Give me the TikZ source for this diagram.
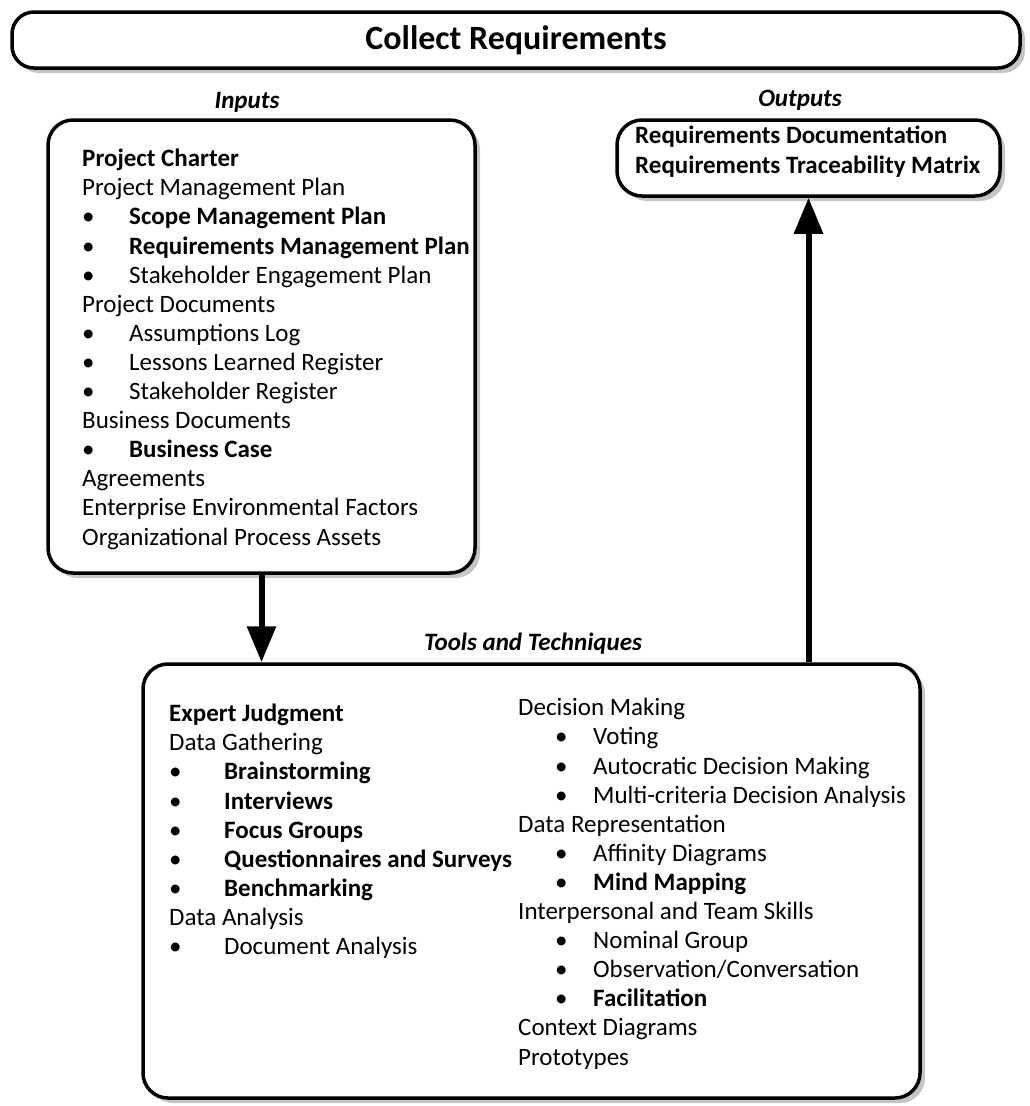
\documentclass[tikz,border=0pt]{standalone}
\usepackage{fontspec}
\setmainfont{Carlito}
\usetikzlibrary{arrows.meta, shadows}

\newcommand{\bl}[2][47pt]{\makebox[#1][l]{\textbullet}#2}
\newcommand{\br}[1]{\hspace{37pt}\makebox[38pt][l]{\textbullet}#1}

\begin{document}
\begin{tikzpicture}[x=1pt, y=-1pt, font=\fontsize{25}{29.1}\selectfont]
	\tikzstyle{box} = [rectangle, rounded corners=25pt, draw=black, line width=3.5pt, fill=white, drop shadow={shadow xshift=5pt, shadow yshift=-5pt, fill=black!45, opacity=0.5}]
	
	\tikzstyle{titlebox} = [box, rounded corners=22pt, font=\fontsize{34}{40}\selectfont\bfseries]
	
	% lists are placed by the baseline of their last line
	\tikzstyle{lines} = [anchor=base west, align=left, inner sep=0pt]
	\tikzstyle{heading} = [inner sep=0pt, font=\fontsize{25}{29.1}\selectfont\bfseries\itshape]
	
	\tikzstyle{arrow} = [-{Triangle[width=28pt,length=36pt]}, line width=6pt]
	
	\useasboundingbox (0,0) rectangle (1029,1106);
	
	% Title
	\node (title) [titlebox, minimum width=1008pt, minimum height=56pt] at (516,40) {Collect Requirements};
	
	% Headings
	\node (inhead) [heading] at (247,102) {Inputs};
	\node (outhead) [heading] at (800,100) {Outputs};
	\node (toolhead) [heading] at (533,644) {Tools and Techniques};
	
	% Boxes
	\node (inputs) [box, minimum width=427pt, minimum height=453pt] at (261.5,346.5) {};
	\node (outputs) [box, minimum width=383pt, minimum height=76pt] at (808.5,158) {};
	\node (tools) [box, minimum width=777pt, minimum height=434pt] at (531.5,881) {};
	
	% Box contents
	\node (inlist) [lines] at (82,545) {\textbf{Project Charter}\\
		Project Management Plan\\
		\bl{\textbf{Scope Management Plan}}\\
		\bl{\textbf{Requirements Management Plan}}\\
		\bl{Stakeholder Engagement Plan}\\
		Project Documents\\
		\bl{Assumptions Log}\\
		\bl{Lessons Learned Register}\\
		\bl{Stakeholder Register}\\
		Business Documents\\
		\bl{\textbf{Business Case}}\\
		Agreements\\
		Enterprise Environmental Factors\\
		Organizational Process Assets};
	
	\node (outlist) [lines, font=\fontsize{25}{29.1}\selectfont\bfseries] at (635,173) {Requirements Documentation\\
		Requirements Traceability Matrix};
	
	\node (toolsleft) [lines] at (169,954.5) {\textbf{Expert Judgment}\\
		Data Gathering\\
		\bl[55pt]{\textbf{Brainstorming}}\\
		\bl[55pt]{\textbf{Interviews}}\\
		\bl[55pt]{\textbf{Focus Groups}}\\
		\bl[55pt]{\textbf{Questionnaires and Surveys}}\\
		\bl[55pt]{\textbf{Benchmarking}}\\
		Data Analysis\\
		\bl[55pt]{Document Analysis}};
	
	\node (toolsright) [lines] at (518,1065) {Decision Making\\
		\br{Voting}\\
		\br{Autocratic Decision Making}\\
		\br{Multi-criteria Decision Analysis}\\
		Data Representation\\
		\br{Affinity Diagrams}\\
		\br{\textbf{Mind Mapping}}\\
		Interpersonal and Team Skills\\
		\br{Nominal Group}\\
		\br{Observation/Conversation}\\
		\br{\textbf{Facilitation}}\\
		Context Diagrams\\
		Prototypes};
	
	% Arrows
	\draw [arrow] (inputs.south) -- (inputs.south |- tools.north);
	\draw [arrow] (outputs.south |- tools.north) -- (outputs.south);
\end{tikzpicture}
\end{document}
